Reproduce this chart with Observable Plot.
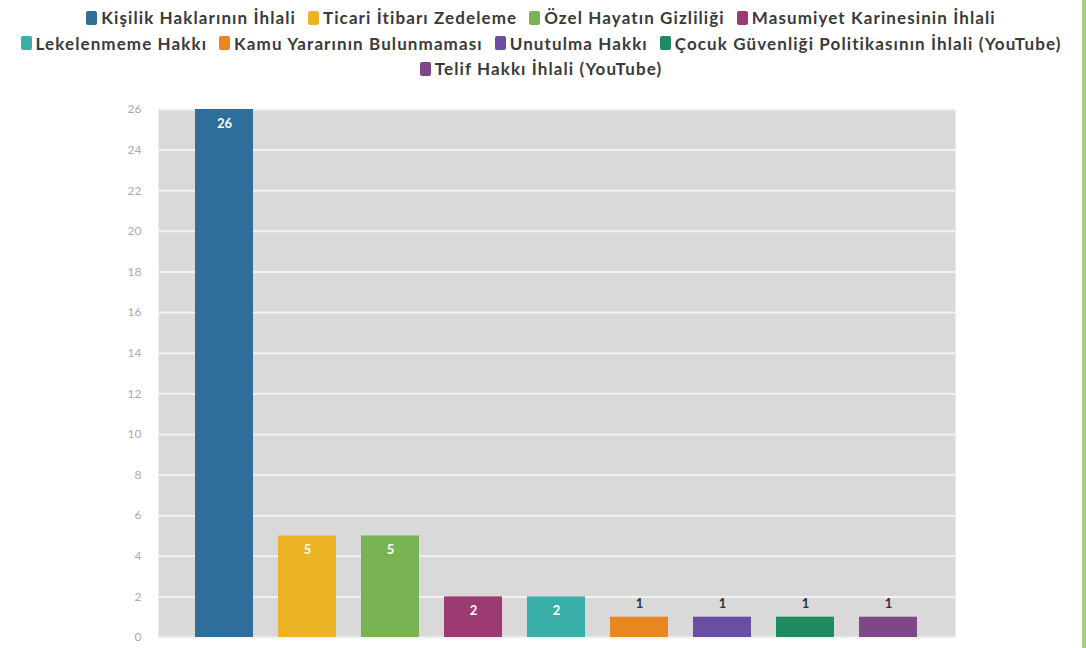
<!DOCTYPE html>
<html>
<head>
<meta charset="utf-8">
<script src="https://cdn.jsdelivr.net/npm/d3@7"></script>
<script src="https://cdn.jsdelivr.net/npm/@observablehq/plot@0.6"></script>
<style>
  html, body { margin: 0; padding: 0; background: #fff; }
  body { width: 1086px; height: 648px; position: relative; overflow: hidden; font-family: Lato, "Noto Sans", sans-serif; }
  #legend { height: 85px; box-sizing: border-box; padding-top: 5px; display: flex; flex-wrap: wrap; justify-content: center; align-content: flex-start; width: 1066px; margin-left: 8px; }
  .item { display: flex; align-items: center; font-size: 17px; font-weight: 700; letter-spacing: 1.1px; color: #3a3a3a; line-height: 25.5px; margin: 0 6px; white-space: nowrap; }
  .sw { width: 11px; height: 14px; border-radius: 2px; margin-right: 4px; }
  .br { flex-basis: 100%; height: 0; }
  #edge { position: absolute; right: 0; top: 0; width: 4px; height: 648px; background: #a3d47c; }
  #chart svg { display: block; }
</style>
</head>
<body>
<div id="legend"></div>
<div id="chart"></div>
<div id="edge"></div>
<script>
const categories = [
  "Kişilik Haklarının İhlali",
  "Ticari İtibarı Zedeleme",
  "Özel Hayatın Gizliliği",
  "Masumiyet Karinesinin İhlali",
  "Lekelenmeme Hakkı",
  "Kamu Yararının Bulunmaması",
  "Unutulma Hakkı",
  "Çocuk Güvenliği Politikasının İhlali (YouTube)",
  "Telif Hakkı İhlali (YouTube)"
];
const values = [26, 5, 5, 2, 2, 1, 1, 1, 1];
const colors = ["#2f6e9b", "#ecb425", "#7ab353", "#9c3b72", "#3aaea9", "#e8871f", "#694ea1", "#1d8a5f", "#7d4788"];
const yTicks = [0, 2, 4, 6, 8, 10, 12, 14, 16, 18, 20, 22, 24, 26];

const data = categories.map((c, i) => ({category: c, value: values[i]}));

const legend = document.getElementById("legend");
categories.forEach((c, i) => {
  const it = document.createElement("div");
  it.className = "item";
  const sw = document.createElement("span");
  sw.className = "sw";
  sw.style.background = colors[i];
  it.appendChild(sw);
  it.appendChild(document.createTextNode(c));
  legend.appendChild(it);
  if (i === 3 || i === 7) {
    const br = document.createElement("div");
    br.className = "br";
    legend.appendChild(br);
  }
});

const chart = Plot.plot({
  width: 1086,
  height: 563,
  marginTop: 24,
  marginBottom: 11,
  marginLeft: 158,
  marginRight: 131,
  style: {fontFamily: "Lato, 'Noto Sans', sans-serif", background: "transparent"},
  x: {domain: categories, paddingInner: 0.3, paddingOuter: 0.42, axis: null},
  y: {domain: [0, 26], ticks: yTicks, label: null},
  color: {domain: categories, range: colors},
  marks: [
    Plot.frame({fill: "#d9d9d9", stroke: null}),
    Plot.gridY(yTicks, {stroke: "#f2f2f2", strokeOpacity: 1, strokeWidth: 2}),
    Plot.axisY(yTicks, {tickSize: 0, tickPadding: 17, fontSize: 12, fill: "#aaa", label: null}),
    Plot.barY(data, {x: "category", y: "value", fill: "category"}),
    Plot.text(data.filter(d => d.value >= 2), {x: "category", y: "value", text: d => String(d.value), dy: 14, fill: "#fff", fontSize: 13, fontWeight: 700}),
    Plot.text(data.filter(d => d.value < 2), {x: "category", y: "value", text: d => String(d.value), dy: -13, fill: "#333", fontSize: 13, fontWeight: 700})
  ]
});
document.getElementById("chart").appendChild(chart);
</script>
</body>
</html>
